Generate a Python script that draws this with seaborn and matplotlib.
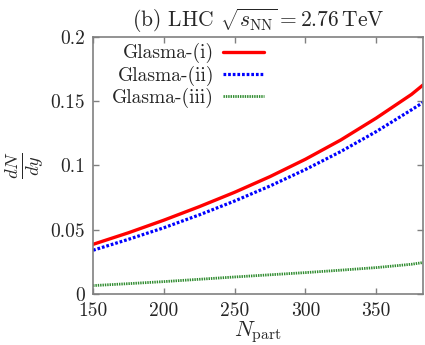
import numpy as np
import pandas as pd
import seaborn as sns
import matplotlib
matplotlib.use("Agg")
import matplotlib.pyplot as plt

n_part = [150, 175, 200, 225, 250, 275, 300, 325, 350, 375, 383]
glasma_i = [0.0386, 0.0476, 0.0574, 0.0679, 0.0791, 0.0913, 0.1048, 0.1198, 0.1368, 0.1553, 0.1625]
glasma_ii = [0.034, 0.0425, 0.0515, 0.0615, 0.0723, 0.0840, 0.0968, 0.1108, 0.1263, 0.1433, 0.1489]
glasma_iii = [0.0065, 0.008, 0.0096, 0.0114, 0.0132, 0.0149, 0.0166, 0.0185, 0.0205, 0.0231, 0.0244]
labels = ["Glasma-(i)", "Glasma-(ii)", "Glasma-(iii)"]
xticks = [150, 200, 250, 300, 350]
yticks = [0, 0.05, 0.1, 0.15, 0.2]
ytick_labels = ["0", "0.05", "0.1", "0.15", "0.2"]

sns.set_style("ticks")
plt.rcParams["font.family"] = ["cmr10", "DejaVu Serif"]
plt.rcParams["mathtext.fontset"] = "cm"
plt.rcParams["axes.formatter.use_mathtext"] = True

df = pd.DataFrame({
    "N": n_part * 3,
    "val": glasma_i + glasma_ii + glasma_iii,
    "model": [labels[0]] * len(n_part) + [labels[1]] * len(n_part) + [labels[2]] * len(n_part),
})

fig = plt.figure(figsize=(4.25, 3.45), dpi=100)
ax = fig.add_axes([0.219, 0.148, 0.776, 0.745])

styles = {
    labels[0]: dict(color="#ff0000", lw=2.4, ls="-"),
    labels[1]: dict(color="#0000ff", lw=2.3, ls=(0, (0.85, 0.6))),
    labels[2]: dict(color="#2e8b2e", lw=2.0, ls=(0, (0.5, 0.35))),
}
for lab in labels:
    sub = df[df["model"] == lab]
    sns.lineplot(data=sub, x="N", y="val", ax=ax, label=lab, **styles[lab])

ax.set_xlim(150, 383)
ax.set_ylim(0, 0.2)
ax.set_xticks(xticks)
ax.set_xticklabels([str(t) for t in xticks])
ax.set_yticks(yticks)
ax.set_yticklabels(ytick_labels)
ax.tick_params(direction="in", length=4, width=1, color="#808080",
               top=True, right=True, labelsize=14, pad=6)
for s in ax.spines.values():
    s.set_color("#808080")
    s.set_linewidth(1.2)
    s.set_visible(True)

ax.set_xlabel(r"$N_{\rm part}$", fontsize=16, labelpad=-1)
ax.set_ylabel(r"$\frac{dN}{dy}$", fontsize=19, labelpad=2)
ax.set_title(r"(b) LHC $\sqrt{s_{\rm NN}}=2.76\,{\rm TeV}$", fontsize=15.5, pad=7)

leg = ax.legend(loc="upper right", frameon=False, markerfirst=False, fontsize=14,
                handlelength=2.1, handletextpad=0.45, labelspacing=0.1,
                borderaxespad=0.0, borderpad=0.0, bbox_to_anchor=(0.517, 0.975))
for t in leg.get_texts():
    t.set_ha("right")
leg._legend_box.align = "right"

fig.savefig("out.png", dpi=100)
